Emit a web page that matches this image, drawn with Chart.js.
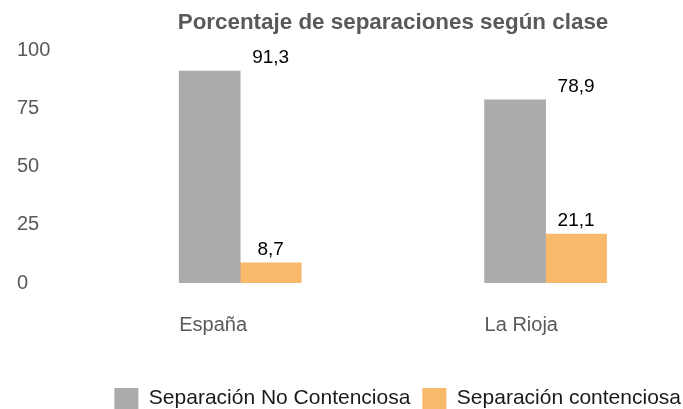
<!DOCTYPE html>
<html>
<head>
<meta charset="utf-8">
<script src="https://cdn.jsdelivr.net/npm/chart.js@4"></script>
<style>
  html, body { margin: 0; padding: 0; background: #fff; }
  #wrap { width: 683px; height: 409px; }
</style>
</head>
<body>
<div id="wrap"><canvas id="chart"></canvas></div>
<script>
const categories = ['España', 'La Rioja'];
const seriesNames = ['Separación No Contenciosa', 'Separación contenciosa'];
const noContenciosa = [91.3, 78.9];
const contenciosa = [8.7, 21.1];
const yTicks = [0, 25, 50, 75, 100];

const FONT = '"Liberation Sans", Arial, sans-serif';
Chart.defaults.font.family = FONT;
Chart.defaults.color = '#595959';

// bars sit on a linear x axis so the two groups can be placed like the original
const toPoints = arr => arr.map((v, i) => ({ x: i, y: v }));

// value labels, comma decimals; grey one sits over the orange bar as in the picture
const barLabels = {
  id: 'barLabels',
  afterDatasetsDraw(chart) {
    const ctx = chart.ctx;
    ctx.save();
    ctx.font = '19px ' + FONT;
    ctx.fillStyle = '#000';
    ctx.textAlign = 'center';
    ctx.textBaseline = 'bottom';
    chart.data.datasets.forEach((ds, di) => {
      chart.getDatasetMeta(di).data.forEach((bar, i) => {
        const x = di === 0 ? bar.x + bar.width : bar.x;
        ctx.fillText(String(ds.data[i].y).replace('.', ','), x, bar.y - 4);
      });
    });
    ctx.restore();
  }
};

// title centred over the bars, legend pushed to the bottom right edge
const nudge = {
  id: 'nudge',
  afterLayout(chart) {
    chart.titleBlock.left = 103;
    const lg = chart.legend;
    lg.left += 10; lg.right += 10;
    lg.top += 10; lg.bottom += 10;
  }
};

new Chart(document.getElementById('chart'), {
  type: 'bar',
  data: {
    datasets: [{
      label: seriesNames[0],
      data: toPoints(noContenciosa),
      backgroundColor: '#ababab',
      barThickness: 61,
    }, {
      label: seriesNames[1],
      data: toPoints(contenciosa),
      backgroundColor: '#f8b96a',
      barThickness: 61,
    }]
  },
  options: {
    responsive: true,
    maintainAspectRatio: false,
    animation: false,
    layout: { padding: { left: 17, right: 0, top: 0, bottom: 0 } },
    plugins: {
      title: {
        display: true,
        text: 'Porcentaje de separaciones según clase',
        color: '#595959',
        font: { size: 22.4, weight: 'bold' },
        padding: { top: 9, bottom: 15 }
      },
      legend: {
        position: 'bottom',
        align: 'end',
        labels: {
          boxWidth: 24,
          boxHeight: 21,
          color: '#1a1a1a',
          font: { size: 21 },
          padding: 12
        }
      },
      tooltip: { enabled: false }
    },
    scales: {
      x: {
        type: 'linear',
        bounds: 'data',
        offset: false,
        min: -0.59,
        max: 1.45,
        grid: { display: false, drawTicks: false },
        border: { display: false },
        afterBuildTicks: s => { s.ticks = categories.map((c, i) => ({ value: i })); },
        ticks: {
          align: 'start',
          labelOffset: -61,
          padding: 30,
          color: '#595959',
          font: { size: 20 },
          callback: v => categories[v]
        },
        afterFit: s => { s.height = 83; }
      },
      y: {
        min: 0,
        max: 100,
        grid: { display: false, drawTicks: false },
        border: { display: false },
        afterBuildTicks: s => { s.ticks = yTicks.map(v => ({ value: v })); },
        ticks: {
          crossAlign: 'far',
          color: '#595959',
          font: { size: 20 }
        },
        afterFit: s => { s.width = 43; }
      }
    }
  },
  plugins: [barLabels, nudge]
});
</script>
</body>
</html>
